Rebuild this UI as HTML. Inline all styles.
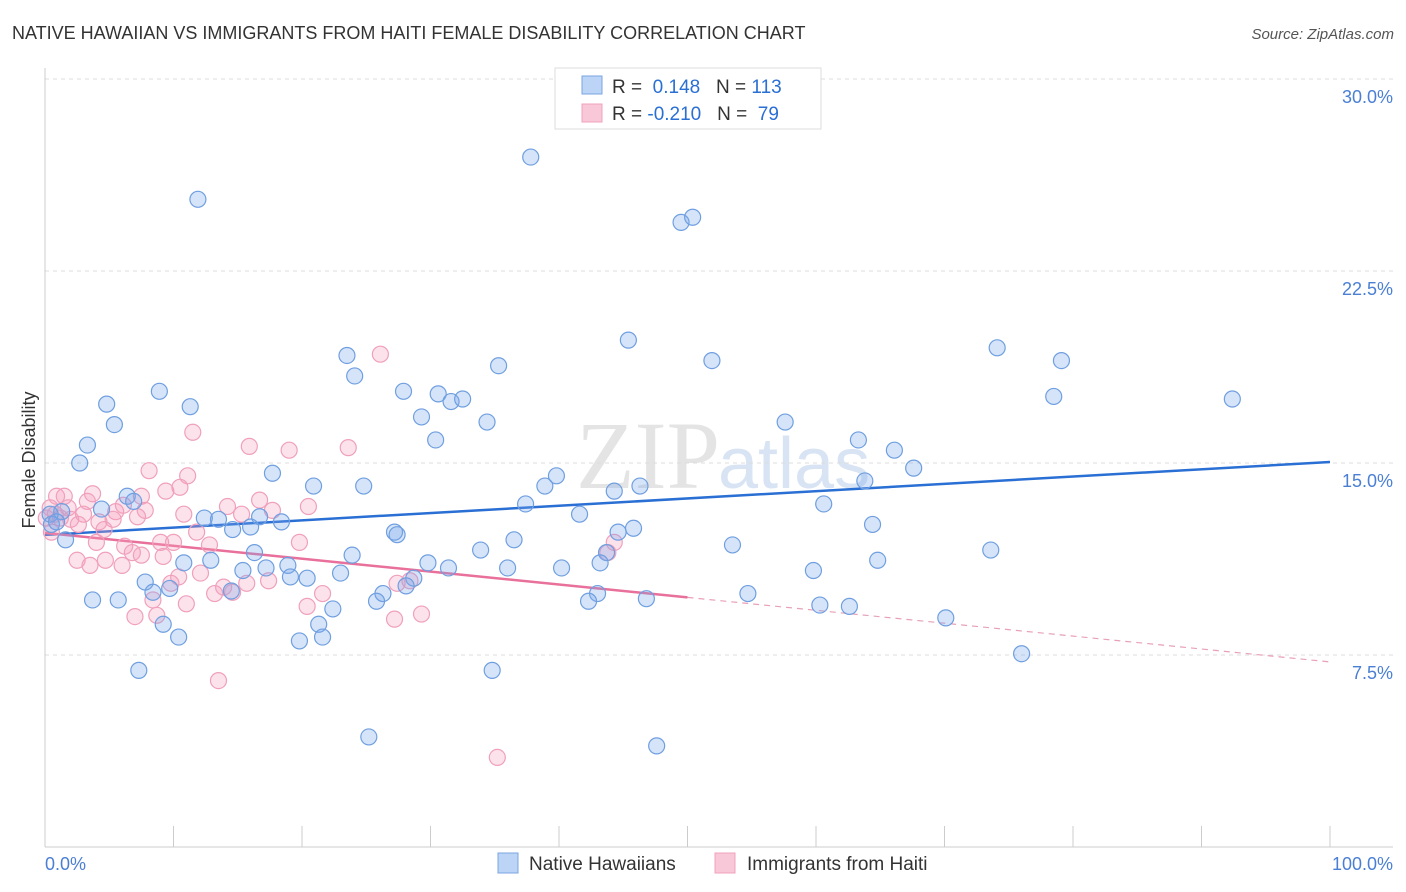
<!DOCTYPE html>
<html><head><meta charset="utf-8"><style>
body{margin:0;background:#fff;font-family:"Liberation Sans",sans-serif;}
#wrap{position:relative;width:1406px;height:892px;overflow:hidden;}
</style></head><body>
<div id="wrap">
<svg id="chart" width="1406" height="892" xmlns="http://www.w3.org/2000/svg">
<text x="12" y="39" font-size="18" fill="#333">NATIVE HAWAIIAN VS IMMIGRANTS FROM HAITI FEMALE DISABILITY CORRELATION CHART</text>
<text x="1394" y="39" font-size="15" fill="#555" font-style="italic" text-anchor="end">Source: ZipAtlas.com</text>
<text x="720" y="488" font-size="96" fill="#e4e4e4" text-anchor="end" font-family="Liberation Serif">ZIP</text>
<text x="718" y="488" font-size="72" fill="#d8e4f4">atlas</text>
<g id="grid"></g><g id="axes"></g><g id="trend"></g><g id="pts"></g>
<text x="35" y="460" font-size="18" fill="#333" transform="rotate(-90 35 460)" text-anchor="middle">Female Disability</text>
<text x="45" y="870" font-size="18" fill="#4a7fd4">0.0%</text>
<text x="1393" y="870" font-size="18" fill="#4a7fd4" text-anchor="end">100.0%</text>
<g>
<rect x="555" y="68" width="266" height="61" fill="#fff" stroke="#ddd"/>
<rect x="582" y="76" width="20" height="18" fill="#bcd4f6" stroke="#7aa6e0"/>
<rect x="582" y="104" width="20" height="18" fill="#f8c8d8" stroke="#f0a0bc"/>
<text x="612" y="93" font-size="19" fill="#333">R = <tspan fill="#2a6fd4">&#160;0.148</tspan>&#160;&#160;&#160;N = <tspan fill="#2a6fd4">113</tspan></text>
<text x="612" y="120" font-size="19" fill="#333">R = <tspan fill="#2a6fd4">-0.210</tspan>&#160;&#160;&#160;N = <tspan fill="#2a6fd4">&#160;79</tspan></text>
</g>
<g>
<rect x="498" y="853" width="20" height="20" fill="#bcd4f6" stroke="#7aa6e0"/>
<text x="529" y="870" font-size="19" fill="#333">Native Hawaiians</text>
<rect x="715" y="853" width="20" height="20" fill="#f8c8d8" stroke="#f0a0bc"/>
<text x="747" y="870" font-size="19" fill="#333">Immigrants from Haiti</text>
</g>
</svg>
</div>
<script>
const yTicks=[7.5,15.0,22.5,30.0];
const yTickLabels=["7.5%","15.0%","22.5%","30.0%"];
const xTicks=[0,10,20,30,40,50,60,70,80,90,100];
const blueX=[37.8,11.9,49.5,50.4,45.4,23.5,51.9,74.1,79.1,24.1,35.3,27.9,8.9,30.6,31.6,32.5,4.8,11.3,29.3,34.4,5.4,92.4,78.5,57.6,30.4,3.3,63.3,66.1,2.7,17.7,67.6,39.8,38.9,20.9,24.8,46.3,44.3,63.8,6.4,4.4,1.3,0.4,0.5,0.9,41.6,60.6,12.4,13.5,14.6,16.0,16.7,18.4,37.4,6.9,1.6,64.4,44.6,45.8,27.2,27.4,36.5,33.9,23.9,16.3,43.7,53.5,73.6,64.8,12.9,43.2,29.8,31.4,36.0,40.2,23.0,15.4,18.9,17.2,28.7,28.1,26.3,19.1,20.4,10.8,7.8,9.7,8.4,14.5,59.8,54.7,43.0,42.3,46.8,25.8,22.4,3.7,5.7,9.2,10.4,21.3,21.6,19.8,60.3,62.6,70.1,76.0,7.3,34.8,25.2,47.6];
const blueY=[26.95,25.3,24.4,24.6,19.8,19.2,19.0,19.5,19.0,18.4,18.8,17.8,17.8,17.7,17.4,17.5,17.3,17.2,16.8,16.6,16.5,17.5,17.6,16.6,15.9,15.7,15.9,15.5,15.0,14.6,14.8,14.5,14.1,14.1,14.1,14.1,13.9,14.3,13.7,13.2,13.1,13.0,12.6,12.7,13.0,13.4,12.85,12.8,12.4,12.5,12.9,12.7,13.4,13.5,12.0,12.6,12.3,12.45,12.3,12.2,12.0,11.6,11.4,11.5,11.5,11.8,11.6,11.2,11.2,11.1,11.1,10.9,10.9,10.9,10.7,10.8,11.0,10.9,10.5,10.2,9.9,10.55,10.5,11.1,10.35,10.1,9.95,10.0,10.8,9.9,9.9,9.6,9.7,9.6,9.3,9.65,9.65,8.7,8.2,8.7,8.2,8.05,9.45,9.4,8.95,7.55,6.9,6.9,4.3,3.95];
const pinkX=[26.1,11.5,15.9,19.0,23.6,8.1,11.1,10.5,9.4,1.5,3.7,7.5,3.3,6.1,14.2,17.7,20.5,5.5,7.8,0.4,0.8,1.2,2.0,2.6,4.2,7.2,10.8,15.3,16.7,11.8,12.8,4.6,4.0,6.2,6.8,9.0,19.8,10.0,2.5,4.7,3.5,6.0,7.5,9.2,12.1,10.4,9.8,15.7,13.9,14.6,13.2,17.4,21.6,27.4,28.4,8.4,7.0,11.0,8.7,20.4,27.2,29.3,44.3,43.8,13.5,35.2,0.9,1.8,3.0,0.1,0.5,5.3];
const pinkY=[19.25,16.2,15.65,15.5,15.6,14.7,14.5,14.05,13.9,13.7,13.8,13.7,13.5,13.35,13.3,13.15,13.3,13.1,13.15,13.25,13.0,12.85,12.8,12.6,12.7,12.9,13.0,13.0,13.55,12.3,11.8,12.4,11.9,11.75,11.5,11.9,11.9,11.9,11.2,11.2,11.0,11.0,11.4,11.35,10.7,10.55,10.3,10.3,10.15,9.95,9.9,10.4,9.9,10.3,10.4,9.65,9.0,9.5,9.05,9.4,8.9,9.1,11.9,11.5,6.5,3.5,13.7,13.25,13.0,12.85,12.3,12.8];
const blueTrend=[12.19,15.04];
const pinkTrend=[12.27,7.23];
const pinkSolidEnd=50;

const NS="http://www.w3.org/2000/svg";
const sx=v=>45+v*12.85;
const sy=v=>847-v*25.6;
function mk(tag,attrs,parent){const e=document.createElementNS(NS,tag);for(const k in attrs)e.setAttribute(k,attrs[k]);document.getElementById(parent).appendChild(e);return e;}
yTicks.forEach((t,i)=>{
  const g=mk('line',{x1:45,x2:1393,y1:sy(t),y2:sy(t),stroke:'#dcdcdc','stroke-dasharray':'4,4'},'grid');
  
  
  const l=mk('text',{x:1393,y:sy(t)+24,'font-size':18,fill:'#4a7fd4','text-anchor':'end'},'grid');
  l.textContent=yTickLabels[i];
  
  
});
const ax=mk('line',{x1:45,x2:45,y1:68,y2:847,stroke:'#ccc'},'axes');


const bx=mk('line',{x1:45,x2:1393,y1:847,y2:847,stroke:'#ccc'},'axes');


xTicks.forEach(t=>{
  const k=mk('line',{x1:sx(t),x2:sx(t),y1:826,y2:847,stroke:'#ccc'},'axes');
  
  
});
const bt=mk('line',{x1:sx(0),y1:sy(blueTrend[0]),x2:sx(100),y2:sy(blueTrend[1]),stroke:'#2a6fd4','stroke-width':2.5},'trend');


const pm=pinkTrend[0]+(pinkTrend[1]-pinkTrend[0])*pinkSolidEnd/100;
const pt=mk('line',{x1:sx(0),y1:sy(pinkTrend[0]),x2:sx(pinkSolidEnd),y2:sy(pm),stroke:'#e8709a','stroke-width':2.5},'trend');


const pd=mk('line',{x1:sx(pinkSolidEnd),y1:sy(pm),x2:sx(100),y2:sy(pinkTrend[1]),stroke:'#e8a0b8','stroke-width':1.2,'stroke-dasharray':'6,5'},'trend');


pinkX.forEach((x,i)=>{
  const c=mk('circle',{cx:sx(x),cy:sy(pinkY[i]),r:8,fill:'rgba(244,160,190,0.3)',stroke:'#f0a0bc','stroke-width':1.2},'pts');
  
  
});
blueX.forEach((x,i)=>{
  const c=mk('circle',{cx:sx(x),cy:sy(blueY[i]),r:8,fill:'rgba(120,165,235,0.3)',stroke:'#6f9fe0','stroke-width':1.2},'pts');
  
  
});
</script>
</body></html>
